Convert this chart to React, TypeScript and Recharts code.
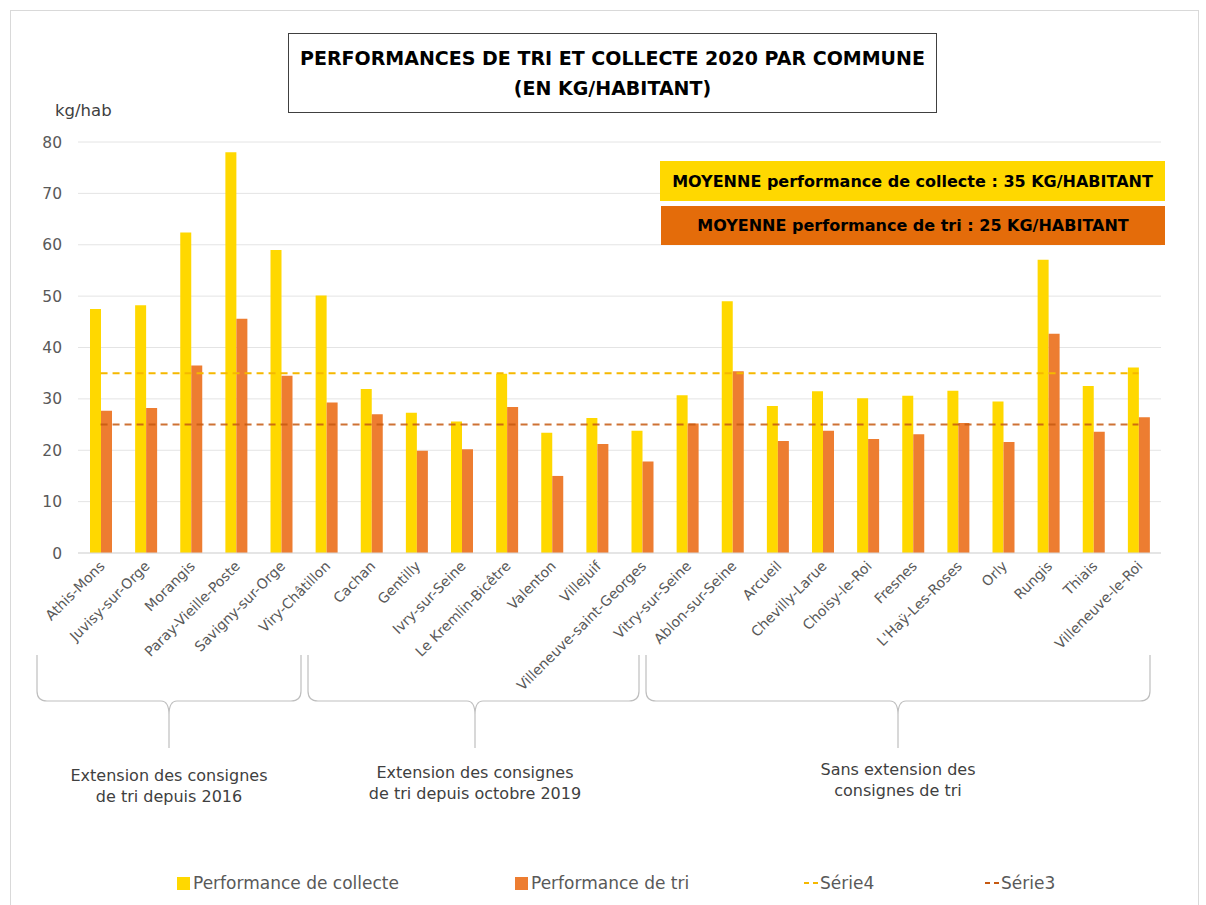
import React from 'react';
import {
  BarChart,
  Bar,
  Line,
  XAxis,
  YAxis,
  CartesianGrid,
  Legend,
} from 'recharts';

const communes = [
  'Athis-Mons', 'Juvisy-sur-Orge', 'Morangis', 'Paray-Vieille-Poste', 'Savigny-sur-Orge', 'Viry-Châtillon',
  'Cachan', 'Gentilly', 'Ivry-sur-Seine', 'Le Kremlin-Bicêtre', 'Valenton', 'Villejuif', 'Villeneuve-saint-Georges',
  'Vitry-sur-Seine', 'Ablon-sur-Seine', 'Arcueil', 'Chevilly-Larue', 'Choisy-le-Roi', 'Fresnes', "L'Haÿ-Les-Roses",
  'Orly', 'Rungis', 'Thiais', 'Villeneuve-le-Roi',
];

const collecte = [
  47.5, 48.2, 62.4, 78.0, 59.0, 50.1,
  31.9, 27.3, 25.6, 34.9, 23.4, 26.3, 23.8,
  30.7, 49.0, 28.6, 31.5, 30.1, 30.6, 31.6, 29.5, 57.1, 32.5, 36.1,
];

const tri = [
  27.7, 28.2, 36.5, 45.6, 34.5, 29.3,
  27.0, 19.9, 20.2, 28.4, 15.0, 21.2, 17.8,
  25.2, 35.4, 21.8, 23.8, 22.2, 23.1, 25.3, 21.6, 42.7, 23.6, 26.4,
];

// moyennes (Série4 = collecte, Série3 = tri)
const serie4 = [35, 35, 35, 35, 35, 35, 35, 35, 35, 35, 35, 35, 35, 35, 35, 35, 35, 35, 35, 35, 35, 35, 35, 35];
const serie3 = [25, 25, 25, 25, 25, 25, 25, 25, 25, 25, 25, 25, 25, 25, 25, 25, 25, 25, 25, 25, 25, 25, 25, 25];

const yTicks = [0, 10, 20, 30, 40, 50, 60, 70, 80];

const groupLabels = [
  ['Extension des consignes', 'de tri depuis 2016'],
  ['Extension des consignes', 'de tri depuis octobre 2019'],
  ['Sans extension des', 'consignes de tri'],
];

const legendOrder = ['collecte', 'tri', 'serie4', 'serie3'];

const data = communes.map((commune, i) => ({
  commune,
  collecte: collecte[i],
  tri: tri[i],
  serie4: serie4[i],
  serie3: serie3[i],
}));

const FONT = '"DejaVu Sans", sans-serif';
const YELLOW = '#FFD800';
const ORANGE = '#ED7D31';

const XTick = ({ x, y, payload }: any) => (
  <text
    x={x + 5}
    y={y + 6}
    transform={`rotate(-45 ${x + 5} ${y + 6})`}
    textAnchor="end"
    fontSize={14}
    fill="#595959"
    fontFamily={FONT}
  >
    {payload.value}
  </text>
);

// largeur de chaque entrée de légende
const legendWidths = [338, 289, 181, 120];

const renderLegend = (props: any) => {
  const { payload } = props;
  return (
    <div
      style={{
        display: 'flex',
        alignItems: 'center',
        paddingLeft: 139,
        height: 24,
        fontFamily: FONT,
        fontSize: 17,
        color: '#595959',
      }}
    >
      {payload.map((entry: any, i: number) => (
        <span key={entry.value} style={{ display: 'flex', alignItems: 'center', width: legendWidths[i], flex: 'none' }}>
          {entry.type === 'line' ? (
            <svg width={14} height={6} style={{ marginRight: 2 }}>
              <line x1={0} y1={3} x2={14} y2={3} stroke={entry.color} strokeWidth={2} strokeDasharray="5 4" />
            </svg>
          ) : (
            <span style={{ width: 13, height: 13, background: entry.color, marginRight: 3, display: 'inline-block' }} />
          )}
          {entry.value}
        </span>
      ))}
    </div>
  );
};

// accolades sous les libellés
const braces = [
  { x1: 37, x2: 301, tip: 169 },
  { x1: 308, x2: 639, tip: 475 },
  { x1: 646, x2: 1150, tip: 898 },
];

const bracePath = (x1: number, x2: number, t: number) => {
  const top = 655;
  const mid = 701;
  const bot = 748;
  return `M${x1},${top} L${x1},${mid - 10} Q${x1},${mid} ${x1 + 10},${mid} L${t - 8},${mid} Q${t},${mid} ${t},${mid + 14} L${t},${bot} L${t},${mid + 14} Q${t},${mid} ${t + 8},${mid} L${x2 - 10},${mid} Q${x2},${mid} ${x2},${mid - 10} L${x2},${top}`;
};

const App = () => {
  return (
    <div style={{ position: 'absolute', left: 0, top: 0, width: 1206, height: 905, background: '#fff', overflow: 'hidden' }}>
      <div style={{ position: 'absolute', left: 10, top: 10, width: 1187, height: 900, border: '1px solid #D9D9D9' }} />
      <BarChart
        width={1206}
        height={905}
        data={data}
        margin={{ top: 142, right: 45, bottom: 10, left: 38 }}
        barGap={0}
        style={{ position: 'absolute', left: 0, top: 0 }}
      >
        <CartesianGrid vertical={false} stroke="#E4E4E4" />
        <XAxis
          dataKey="commune"
          interval={0}
          height={318}
          tick={<XTick />}
          tickLine={false}
          axisLine={{ stroke: '#D9D9D9' }}
        />
        <YAxis
          width={40}
          domain={[0, 80]}
          ticks={yTicks}
          tickLine={false}
          axisLine={false}
          tick={{ fontSize: 15.5, fill: '#595959', fontFamily: FONT }}
          tickMargin={10}
        />
        <Bar dataKey="collecte" name="Performance de collecte" fill={YELLOW} barSize={11} legendType="rect" isAnimationActive={false} />
        <Bar dataKey="tri" name="Performance de tri" fill={ORANGE} barSize={11} legendType="rect" isAnimationActive={false} />
        <Line
          dataKey="serie4"
          name="Série4"
          stroke="#F5B800"
          strokeWidth={2}
          strokeDasharray="7 5"
          dot={false}
          activeDot={false}
          legendType="line"
          isAnimationActive={false}
        />
        <Line
          dataKey="serie3"
          name="Série3"
          stroke="#C65911"
          strokeOpacity={0.85}
          strokeWidth={2}
          strokeDasharray="7 5"
          dot={false}
          activeDot={false}
          legendType="line"
          isAnimationActive={false}
        />
        <Legend
          verticalAlign="bottom"
          content={renderLegend}
          itemSorter={(item: any) => legendOrder.indexOf(item.dataKey)}
        />
      </BarChart>

      <svg width={1206} height={905} style={{ position: 'absolute', left: 0, top: 0, pointerEvents: 'none' }}>
        <text x={55} y={116} fontSize={16.5} fill="#404040" fontFamily={FONT}>kg/hab</text>
        {braces.map((b, i) => (
          <g key={i}>
            <path d={bracePath(b.x1, b.x2, b.tip)} fill="none" stroke="#BFBFBF" strokeWidth={1.2} />
            {groupLabels[i].map((line, j) => (
              <text
                key={j}
                x={b.tip}
                y={[781, 778, 775][i] + j * 21}
                textAnchor="middle"
                fontSize={16}
                fill="#404040"
                fontFamily={FONT}
              >
                {line}
              </text>
            ))}
          </g>
        ))}
      </svg>

      <div
        style={{
          position: 'absolute',
          left: 288,
          top: 33,
          width: 647,
          height: 78,
          border: '1px solid #404040',
          display: 'flex',
          flexDirection: 'column',
          justifyContent: 'center',
          alignItems: 'center',
          fontFamily: FONT,
          fontWeight: 'bold',
          fontSize: 19,
          lineHeight: '30px',
          color: '#000',
        }}
      >
        <div>PERFORMANCES DE TRI ET COLLECTE 2020 PAR COMMUNE</div>
        <div>(EN KG/HABITANT)</div>
      </div>

      <div
        style={{
          position: 'absolute',
          left: 660,
          top: 161,
          width: 505,
          height: 40,
          background: YELLOW,
          display: 'flex',
          alignItems: 'center',
          justifyContent: 'center',
          fontFamily: FONT,
          fontWeight: 'bold',
          fontSize: 16,
          color: '#000',
        }}
      >
        MOYENNE performance de collecte : 35 KG/HABITANT
      </div>
      <div
        style={{
          position: 'absolute',
          left: 661,
          top: 206,
          width: 504,
          height: 39,
          background: '#E46C0A',
          display: 'flex',
          alignItems: 'center',
          justifyContent: 'center',
          fontFamily: FONT,
          fontWeight: 'bold',
          fontSize: 16,
          color: '#000',
        }}
      >
        MOYENNE performance de tri : 25 KG/HABITANT
      </div>
    </div>
  );
};

export default App;
